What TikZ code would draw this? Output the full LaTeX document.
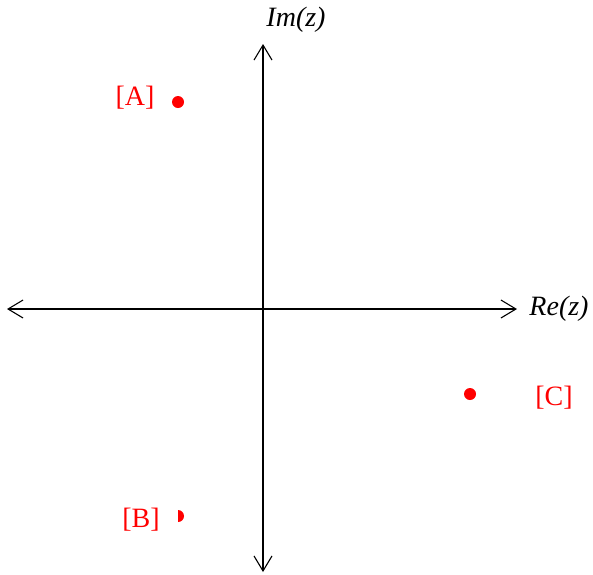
\documentclass[tikz,border=0pt]{standalone}
\usepackage{fontspec}
\setmainfont{Liberation Serif}
\usetikzlibrary{arrows.meta,calc}
\begin{document}
\begin{tikzpicture}[x=1pt,y=-1pt,
  axis/.style={line width=1.1pt,{Straight Barb[length=15pt,width=18pt,line width=1.1pt]}-{Straight Barb[length=15pt,width=18pt,line width=1.1pt]}},
  lab/.style={font=\fontsize{28}{30}\selectfont\itshape,inner sep=0pt},
  plab/.style={text=red,font=\fontsize{28}{30}\selectfont,inner sep=0pt},
  dot/.style={circle,fill=red,minimum size=12pt,inner sep=0pt}]
\useasboundingbox (0,0) rectangle (593,574);
\coordinate (xl) at (7,309);
\coordinate (xr) at (517,309);
\coordinate (yt) at (263,44);
\coordinate (yb) at (263,572);
\draw[axis] (xl) -- (xr);
\draw[axis] (yb) -- (yt);
\node[lab] (im) at (296,20) {Im(z)};
\node[lab] (re) at (559,309) {Re(z)};
\node[dot] (a) at (178,102) {};
\node[plab] (la) at (135,98) {[A]};
\coordinate (b) at (178,516);
\fill[red] ($(b)+(0,-6)$) arc[start angle=90,end angle=-90,radius=6pt] -- cycle;
\node[plab] (lb) at (141,520) {[B]};
\node[dot] (c) at (470,394) {};
\node[plab] (lc) at (554,398) {[C]};
\end{tikzpicture}
\end{document}
